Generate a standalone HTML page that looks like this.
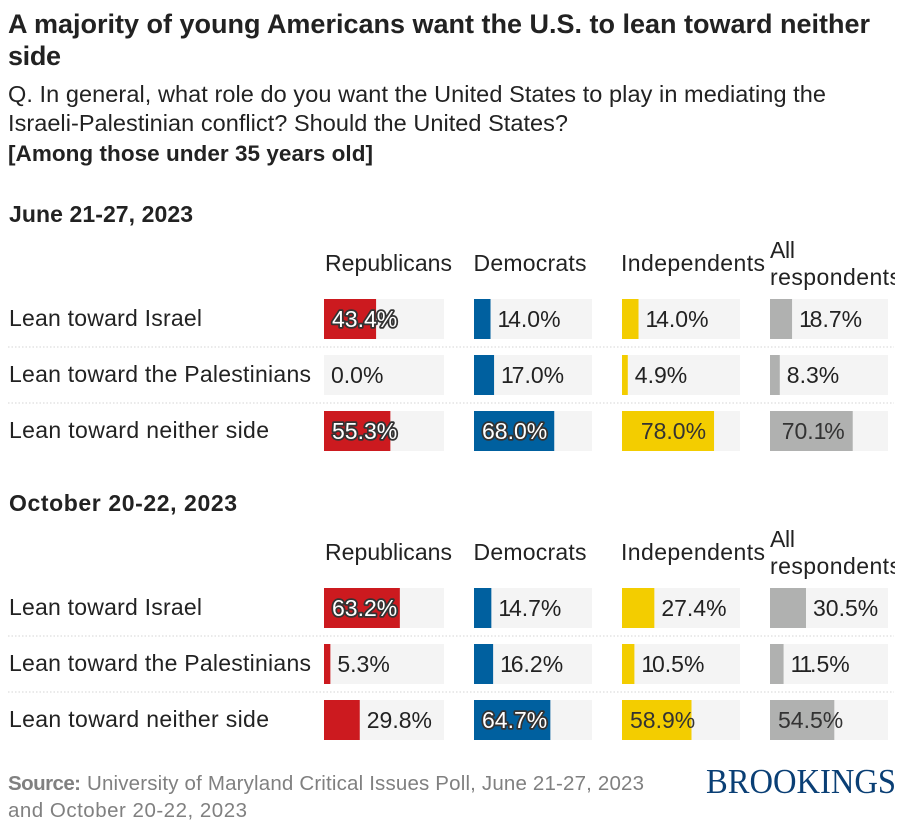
<!DOCTYPE html>
<html lang="en">
<head>
<meta charset="utf-8">
<title>A majority of young Americans want the U.S. to lean toward neither side</title>
<style>
html,body{margin:0;padding:0;background:#fff;width:904px;height:832px;overflow:hidden}
svg{display:block}
text{font-family:"Liberation Sans",Arial,sans-serif;fill:#222;font-size:23px}
.title{font-size:27px;font-weight:700}
.sub{font-size:23.5px}
.subb{font-size:22.5px;font-weight:700}
.wave{font-size:23px;font-weight:700}
.src{font-size:20.5px;fill:#808080}
.val{font-size:23px}
.logo{font-family:"Liberation Serif",serif;font-size:34.5px;fill:#0a3f75}
</style>
</head>
<body>
<svg id="chart" width="904" height="832" viewBox="0 0 904 832" xmlns="http://www.w3.org/2000/svg">
<defs><clipPath id="clip-right"><rect x="0" y="0" width="895" height="832"/></clipPath></defs>
<text class="title" x="8" y="33" textLength="862">A majority of young Americans want the U.S. to lean toward neither</text>
<text class="title" x="8" y="65" textLength="53">side</text>
<text class="sub" x="8" y="102" textLength="818">Q. In general, what role do you want the United States to play in mediating the</text>
<text class="sub" x="8" y="131" textLength="560">Israeli-Palestinian conflict? Should the United States?</text>
<text class="subb" x="8" y="161" textLength="365">[Among those under 35 years old]</text>

<text class="wave" x="9" y="222" textLength="184">June 21-27, 2023</text>
<g>
<text x="325" y="271" textLength="127">Republicans</text>
<text x="473.5" y="271" textLength="113">Democrats</text>
<text x="621" y="271" textLength="144">Independents</text>
<text x="770" y="258" textLength="25">All</text>
<text x="770" y="285" textLength="131" clip-path="url(#clip-right)">respondents</text>
</g>
<g>
<text x="9" y="326" textLength="193">Lean toward Israel</text>
<text x="9" y="382" textLength="302">Lean toward the Palestinians</text>
<text x="9" y="438" textLength="260">Lean toward neither side</text>
</g>

<text class="wave" x="9" y="511" textLength="228">October 20-22, 2023</text>
<g>
<text x="325" y="560" textLength="127">Republicans</text>
<text x="473.5" y="560" textLength="113">Democrats</text>
<text x="621" y="560" textLength="144">Independents</text>
<text x="770" y="547" textLength="25">All</text>
<text x="770" y="574" textLength="131" clip-path="url(#clip-right)">respondents</text>
</g>
<g>
<text x="9" y="615" textLength="193">Lean toward Israel</text>
<text x="9" y="671" textLength="302">Lean toward the Palestinians</text>
<text x="9" y="727" textLength="260">Lean toward neither side</text>
</g>

<g id="marks"></g>

<text class="src" x="8" y="790" style="font-weight:700" textLength="73">Source:</text>
<text class="src" x="87" y="790" textLength="557">University of Maryland Critical Issues Poll, June 21-27, 2023</text>
<text class="src" x="8" y="817" textLength="239">and October 20-22, 2023</text>
<text class="logo" x="706" y="793" textLength="190" lengthAdjust="spacingAndGlyphs">BROOKINGS</text>
</svg>
<script>
const parties = ['republicans', 'democrats', 'independents', 'all-respondents'];
const stances = ['israel', 'palestinians', 'neither'];
const juneRepublicans = [43.4, 0.0, 55.3];
const juneDemocrats = [14.0, 17.0, 68.0];
const juneIndependents = [14.0, 4.9, 78.0];
const juneAll = [18.7, 8.3, 70.1];
const octRepublicans = [63.2, 5.3, 29.8];
const octDemocrats = [14.7, 16.2, 64.7];
const octIndependents = [27.4, 10.5, 58.9];
const octAll = [30.5, 11.5, 54.5];
const waveNames = ['june', 'october'];
const waves = [
  [juneRepublicans, juneDemocrats, juneIndependents, juneAll],
  [octRepublicans, octDemocrats, octIndependents, octAll]
];

const NS = 'http://www.w3.org/2000/svg';
const marks = document.getElementById('marks');
const partyColor = ['#cc1a1f', '#00609f', '#f3cd00', '#b0b1b0'];
const trackX = [324, 474, 622, 770];
const trackW = [120, 118, 118, 118];
const rowH = 40, rowStep = 56.05, waveTop = [299, 588];
const INSIDE_MIN = 40;
const ONE_TIGHTEN = 2.2;

function xScale(col, v) { return trackW[col] * v / 100; }
function yScale(wave, row) { return waveTop[wave] + Math.round(row * rowStep); }
function make(tag, attrs) {
  const el = document.createElementNS(NS, tag);
  for (const k in attrs) el.setAttribute(k, attrs[k]);
  return el;
}

waves.forEach(function (series, w) {
  [0, 1].forEach(function (r) {
    const ly = yScale(w, r) + rowH + 8;
    const rule = make('line', { x1: 8, x2: 894, y1: ly, y2: ly, stroke: '#d4d4d4', 'stroke-width': 1, 'stroke-dasharray': '1.5 2' });
    
    
    marks.appendChild(rule);
  });
  series.forEach(function (values, c) {
    values.forEach(function (v, r) {
      const y = yScale(w, r);
      const track = make('rect', { x: trackX[c], y: y, width: trackW[c], height: rowH, fill: '#f4f4f4' });
      
      
      marks.appendChild(track);

      const bw = xScale(c, v);
      const bar = make('rect', { x: trackX[c], y: y, width: bw, height: rowH, fill: partyColor[c] });
      
      
      marks.appendChild(bar);

      const str = v.toFixed(1) + '%';
      const label = make('text', { class: 'val', y: y + 28 });
      label.textContent = str;
      
      
      marks.appendChild(label);

      // the reference typeface has a narrower "1": pull the following glyph in slightly
      const ones = str.split('1').length - 1;
      const len = label.getComputedTextLength() - ones * ONE_TIGHTEN;
      if (ones) {
        const shifts = str.split('').map(function (ch, i) {
          return i > 0 && str[i - 1] === '1' ? -ONE_TIGHTEN : 0;
        });
        label.setAttribute('dx', shifts.join(' '));
      }
      const end = trackX[c] + bw;
      let tx;
      if (v >= INSIDE_MIN) {
        tx = Math.max(trackX[c] + 8, end - 8 - len);
        if (c < 2) {
          label.setAttribute('style', 'fill:#fff;stroke:#333;stroke-width:3.5px;paint-order:stroke;stroke-linejoin:round');
        } else {
          label.setAttribute('style', 'fill:#333');
        }
      } else {
        tx = end + 7;
      }
      label.setAttribute('x', tx);
    });
  });
});
</script>
</body>
</html>
